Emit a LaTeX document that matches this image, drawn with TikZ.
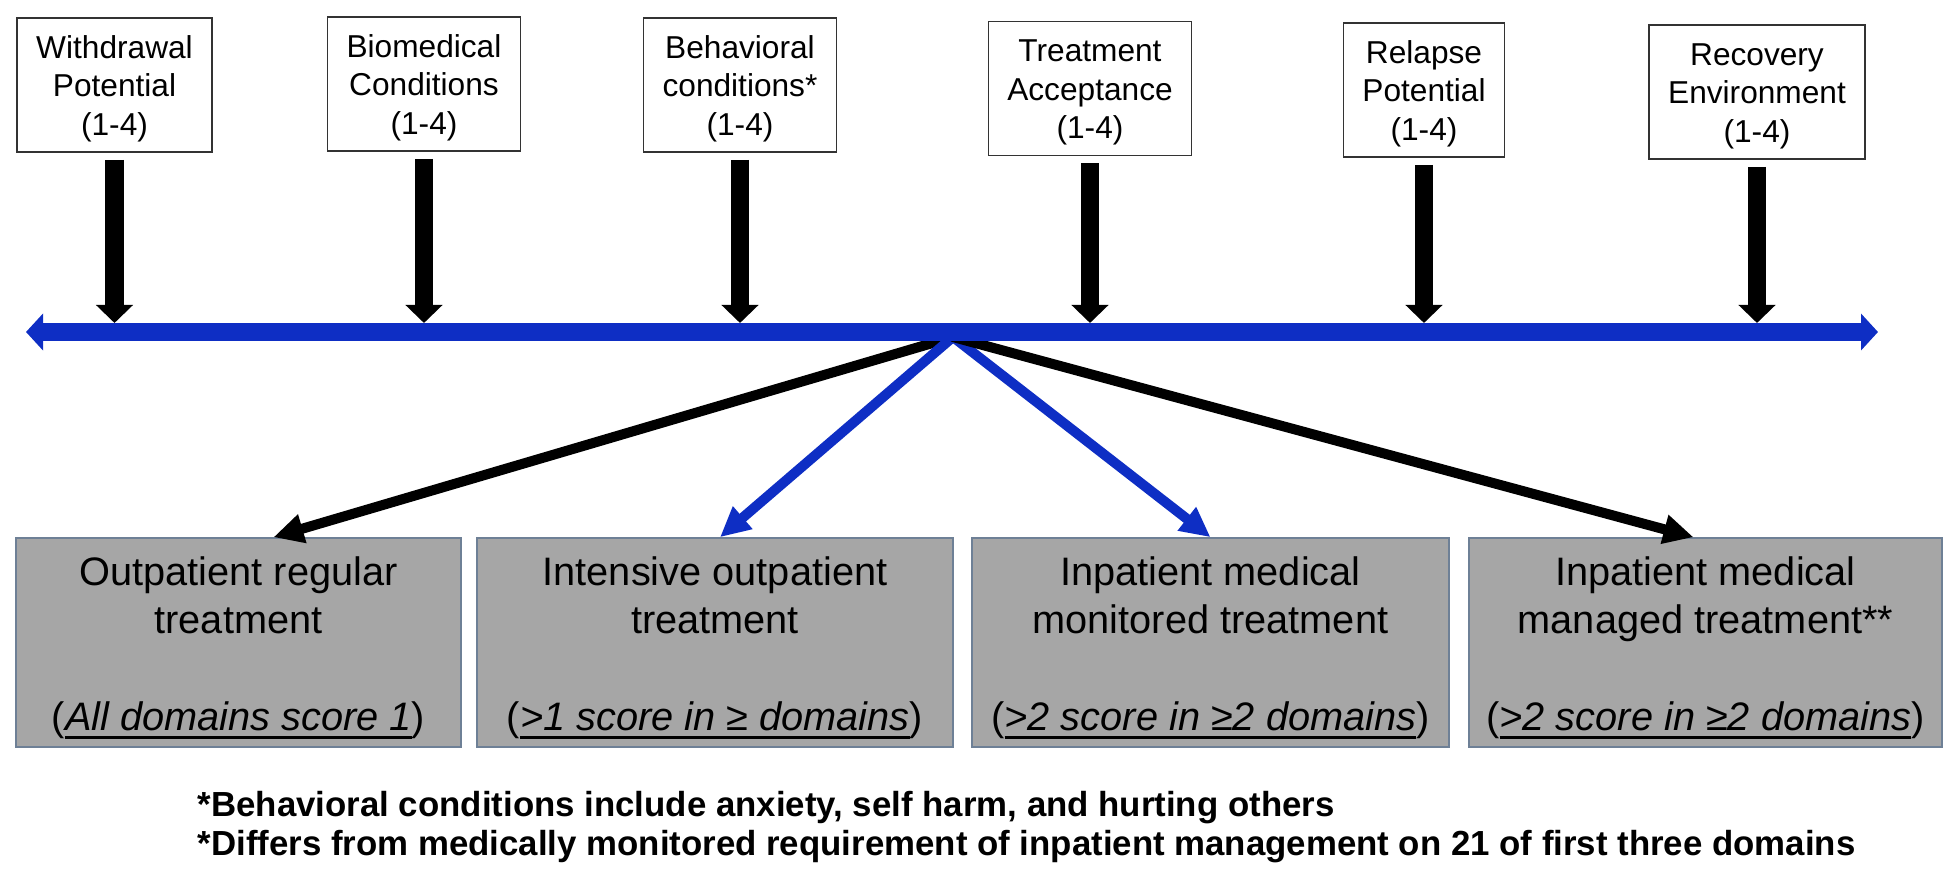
\documentclass[tikz,border=0pt]{standalone}
\usepackage{fontspec}
\setmainfont{Liberation Sans}
\usetikzlibrary{arrows.meta,calc}
\definecolor{lineblue}{RGB}{14,46,196}
\definecolor{boxgray}{RGB}{166,166,166}
\definecolor{boxedge}{RGB}{110,128,150}
\newcommand\myul[1]{\setbox0=\hbox{#1}\rlap{\smash{\rule[-0.085cm]{\wd0}{0.025cm}}}\box0}
\newcommand\topstrut{\rule{0pt}{0.30cm}}
\newcommand\botstrut{\rule{0pt}{0.39cm}}
\begin{document}
\begin{tikzpicture}[x=0.01cm,y=-0.01cm,
  topbox/.style={draw=black!80, line width=0.015cm, fill=white, align=center,
    inner xsep=0.19cm, inner ysep=0pt, minimum height=1.34cm,
    font=\fontsize{9}{10.9}\selectfont},
  botbox/.style={draw=boxedge, line width=0.015cm, fill=boxgray, align=center,
    inner sep=0pt, minimum height=2.09cm, font=\fontsize{11.3}{13.75}\selectfont},
  downarr/.style={line width=0.18cm, -{Triangle[width=0.36cm,length=0.18cm]}},
  axisline/.style={line width=0.18cm, draw=lineblue,
    {Triangle[width=0.36cm,length=0.17cm]}-{Triangle[width=0.36cm,length=0.17cm]}},
  fan/.style={line width=0.1cm, line cap=round, -{Triangle[width=0.28cm,length=0.3cm]}},
  note/.style={anchor=base west, inner sep=0pt, font=\bfseries\fontsize{9.9}{11}\selectfont}
]
\useasboundingbox (0,0) rectangle (1950,873);

% top domain boxes
\node[topbox] (w) at (114.5,85) {\topstrut Withdrawal\\Potential\\(1-4)};
\node[topbox] (bio) at (424,84) {\topstrut Biomedical\\Conditions\\(1-4)};
\node[topbox] (beh) at (740,85) {\topstrut Behavioral\\conditions*\\(1-4)};
\node[topbox] (tra) at (1090,88.5) {\topstrut Treatment\\Acceptance\\(1-4)};
\node[topbox] (rel) at (1424,90) {\topstrut Relapse\\Potential\\(1-4)};
\node[topbox] (rec) at (1757,92) {\topstrut Recovery\\Environment\\(1-4)};

% bottom treatment boxes
\node[botbox, minimum width=4.45cm] (b1) at (238.5,642.5)
  {\botstrut Outpatient regular\\treatment\\[13.75pt](\myul{\textit{All domains score 1}})};
\node[botbox, minimum width=4.76cm] (b2) at (715,642.5)
  {\botstrut Intensive outpatient\\treatment\\[13.75pt](\myul{\textit{>1 score in ≥ domains}})};
\node[botbox, minimum width=4.77cm] (b3) at (1210.5,642.5)
  {\botstrut Inpatient medical\\monitored treatment\\[13.75pt](\myul{\textit{>2 score in ≥2 domains}})};
\node[botbox, minimum width=4.73cm] (b4) at (1705.5,642.5)
  {\botstrut Inpatient medical\\managed treatment**\\[13.75pt](\myul{\textit{>2 score in ≥2 domains}})};

% axis coordinates
\coordinate (axL) at (26,332);
\coordinate (axR) at (1878,332);
\coordinate (axT) at (0,323);
\coordinate (hub) at (953,337);

% fan arrows from hub
\draw[fan] (hub) -- ([xshift=0.35cm]b1.north);
\draw[fan, draw=lineblue] (hub) -- ([xshift=0.05cm]b2.north);
\draw[fan, draw=lineblue] (hub) -- ([xshift=0.0cm]b3.north);
\draw[fan] (hub) -- ([xshift=-0.12cm]b4.north);

% blue axis
\draw[axisline] (axL) -- (axR);

% down arrows
\foreach \n in {w,bio,beh,tra,rel,rec}
  \draw[downarr] ([yshift=-0.07cm]\n.south) -- (\n.south |- axT);

% footnotes
\node[note] (n1) at (197,817) {*Behavioral conditions include anxiety, self harm, and hurting others};
\node[note] (n2) at (197,855) {*Differs from medically monitored requirement of inpatient management on 21 of first three domains};
\end{tikzpicture}
\end{document}
